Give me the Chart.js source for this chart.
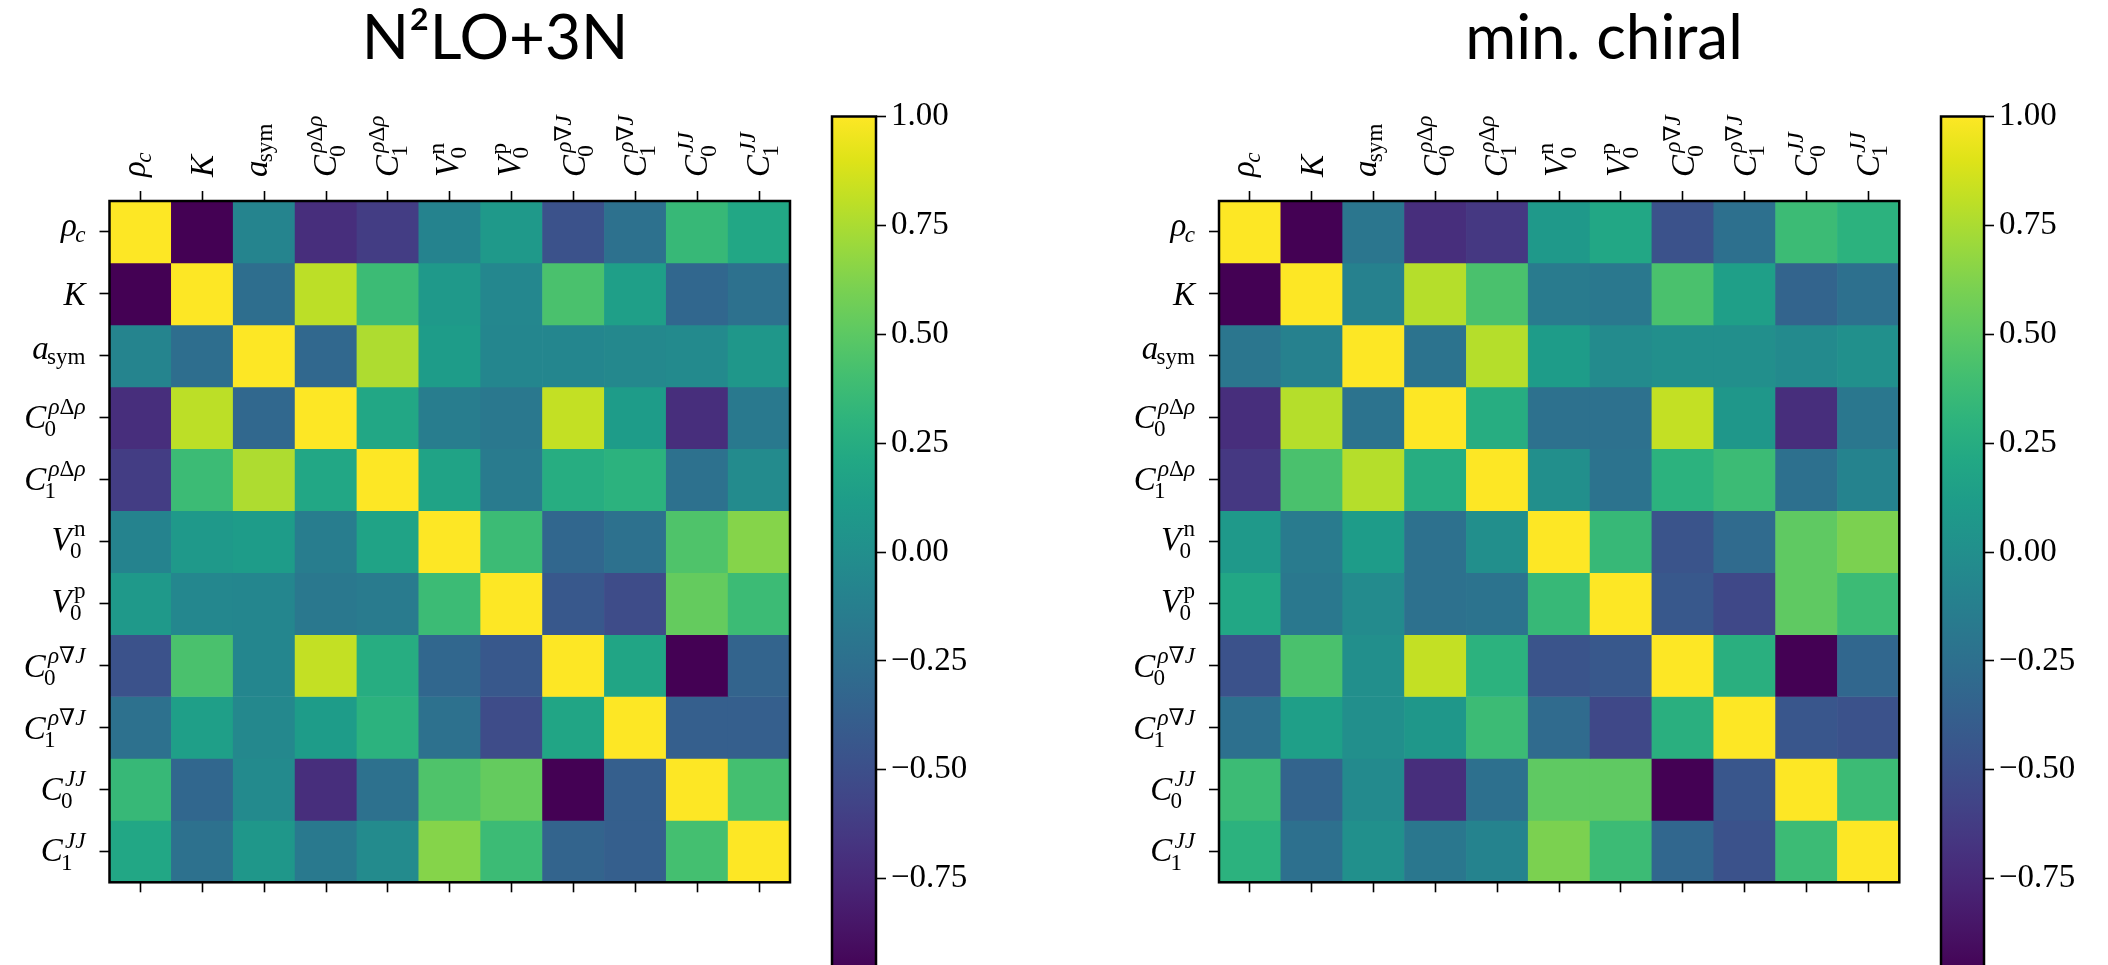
<!DOCTYPE html>
<html>
<head>
<meta charset="utf-8">
<script src="https://cdn.jsdelivr.net/npm/chart.js@4.4.1/dist/chart.umd.min.js"></script>
<style>
  html, body { margin: 0; padding: 0; width: 2108px; height: 965px; overflow: hidden; background: #ffffff; }
  canvas { position: absolute; }
  .title { position: absolute; font-family: Lato, 'Open Sans', sans-serif; font-size: 62px; line-height: 1; white-space: nowrap; transform: translateX(-50%); color: #000; }
</style>
</head>
<body>
<div class="title" id="title1" style="left:495px; top:4px;"></div>
<div class="title" id="title2" style="left:1604px; top:4px;"></div>
<canvas id="heat1" width="830" height="965" style="left:0px; top:0px;"></canvas>
<canvas id="cbar1" width="200" height="1000" style="left:800px; top:0px;"></canvas>
<canvas id="heat2" width="830" height="965" style="left:1100px; top:0px;"></canvas>
<canvas id="cbar2" width="200" height="1000" style="left:1908px; top:0px;"></canvas>
<script>
// ---------------- data ----------------
const parameterLabels = ['ρ_c', 'K', 'a_{sym}', 'C_0^{ρΔρ}', 'C_1^{ρΔρ}', 'V_0^{n}', 'V_0^{p}', 'C_0^{ρ∇J}', 'C_1^{ρ∇J}', 'C_0^{JJ}', 'C_1^{JJ}'];
const uprightGroups = ['sym', 'n', 'p'];
const panelTitles = ['N²LO+3N', 'min. chiral'];
const colorbarTicks = [-0.75, -0.50, -0.25, 0.00, 0.25, 0.50, 0.75, 1.00];

// correlation matrix, N2LO+3N
const n2lo3nCorr = [
  [ 1.00, -0.97, -0.08, -0.71, -0.62, -0.09,  0.09, -0.48, -0.24,  0.35,  0.20],
  [-0.97,  1.00, -0.26,  0.80,  0.37,  0.09, -0.06,  0.43,  0.14, -0.32, -0.24],
  [-0.08, -0.26,  1.00, -0.31,  0.76,  0.11, -0.07, -0.07, -0.05, -0.04,  0.07],
  [-0.71,  0.80, -0.31,  1.00,  0.20, -0.14, -0.18,  0.82,  0.11, -0.71, -0.17],
  [-0.62,  0.37,  0.76,  0.20,  1.00,  0.17, -0.16,  0.25,  0.29, -0.24, -0.03],
  [-0.09,  0.09,  0.11, -0.14,  0.17,  1.00,  0.37, -0.32, -0.24,  0.45,  0.64],
  [ 0.09, -0.06, -0.07, -0.18, -0.16,  0.37,  1.00, -0.43, -0.52,  0.53,  0.37],
  [-0.48,  0.43, -0.07,  0.82,  0.25, -0.32, -0.43,  1.00,  0.19, -0.97, -0.34],
  [-0.24,  0.14, -0.05,  0.11,  0.29, -0.24, -0.52,  0.19,  1.00, -0.38, -0.38],
  [ 0.35, -0.32, -0.04, -0.71, -0.24,  0.45,  0.53, -0.97, -0.38,  1.00,  0.41],
  [ 0.20, -0.24,  0.07, -0.17, -0.03,  0.64,  0.37, -0.34, -0.38,  0.41,  1.00]
];

// correlation matrix, min. chiral
const minChiralCorr = [
  [ 1.00, -0.97, -0.20, -0.71, -0.65,  0.09,  0.20, -0.48, -0.25,  0.37,  0.29],
  [-0.97,  1.00, -0.11,  0.78,  0.43, -0.16, -0.18,  0.43,  0.14, -0.34, -0.25],
  [-0.20, -0.11,  1.00, -0.22,  0.78,  0.11, -0.03,  0.00,  0.00, -0.04,  0.01],
  [-0.71,  0.78, -0.22,  1.00,  0.25, -0.24, -0.24,  0.82,  0.07, -0.71, -0.19],
  [-0.65,  0.43,  0.78,  0.25,  1.00,  0.00, -0.22,  0.29,  0.37, -0.25, -0.09],
  [ 0.09, -0.16,  0.11, -0.24,  0.00,  1.00,  0.35, -0.46, -0.29,  0.51,  0.61],
  [ 0.20, -0.18, -0.03, -0.24, -0.22,  0.35,  1.00, -0.43, -0.55,  0.51,  0.37],
  [-0.48,  0.43,  0.00,  0.82,  0.29, -0.46, -0.43,  1.00,  0.27, -0.97, -0.32],
  [-0.25,  0.14,  0.00,  0.07,  0.37, -0.29, -0.55,  0.27,  1.00, -0.45, -0.48],
  [ 0.37, -0.34, -0.04, -0.71, -0.25,  0.51,  0.51, -0.97, -0.45,  1.00,  0.37],
  [ 0.29, -0.25,  0.01, -0.19, -0.09,  0.61,  0.37, -0.32, -0.48,  0.37,  1.00]
];

// ---------------- colormap (viridis) ----------------
const VIRIDIS = ['#440154','#471365','#482475','#463480','#414487','#3b528b','#355f8d','#2f6c8e','#2a788e','#25848e',
                 '#21918c','#1e9c89','#22a884','#2fb47c','#44bf70','#5ec962','#7ad151','#9bd93c','#bddf26','#dfe318','#fde725'];
function hexRgb(h) { return [parseInt(h.slice(1,3),16), parseInt(h.slice(3,5),16), parseInt(h.slice(5,7),16)]; }
const VIR_RGB = VIRIDIS.map(hexRgb);
function viridis(t) {
  t = Math.max(0, Math.min(1, t));
  const f = t * (VIR_RGB.length - 1);
  const i = Math.min(VIR_RGB.length - 2, Math.floor(f));
  const u = f - i;
  const a = VIR_RGB[i], b = VIR_RGB[i + 1];
  const c = a.map((v, k) => Math.round(v + (b[k] - v) * u));
  return `rgb(${c[0]},${c[1]},${c[2]})`;
}

// ---------------- math-style label rendering ----------------
const SERIF = "'Liberation Serif','DejaVu Serif',serif";
const LABEL_SIZE = 33;
function parseLabel(s) {
  const m = s.match(/^([^_^]+)(?:_(\{[^}]*\}|.))?(?:\^(\{[^}]*\}|.))?$/);
  const strip = g => g ? g.replace(/^\{/, '').replace(/\}$/, '') : '';
  return { base: m[1], sub: strip(m[2]), sup: strip(m[3]) };
}
function pieces(text, size, upright) {
  const out = [];
  for (const ch of text) {
    const it = !upright && /[A-Za-z\u03b1-\u03c9]/.test(ch);
    out.push({ ch, italic: it, font: `${it ? 'italic ' : ''}${size}px ${SERIF}` });
  }
  return out;
}
function measureRun(ctx, run) {
  let w = 0, asc = 0, desc = 0;
  run.forEach(p => {
    ctx.font = p.font;
    const mt = ctx.measureText(p.ch);
    p.w = mt.width;
    asc = Math.max(asc, mt.actualBoundingBoxAscent);
    desc = Math.max(desc, mt.actualBoundingBoxDescent);
    w += p.w;
  });
  return { w, asc, desc };
}
function layoutLabel(ctx, label, S) {
  const { base, sub, sup } = parseLabel(label);
  const s = S * 0.7;
  const items = [];
  const baseRun = pieces(base, S, false);
  const bm = measureRun(ctx, baseRun);
  let x = 0;
  baseRun.forEach(p => { items.push({ ...p, x, dy: 0 }); x += p.w; });
  let width = x, ascent = bm.asc, descent = bm.desc;
  const baseItalic = baseRun[baseRun.length - 1].italic;
  if (sup) {
    const r = pieces(sup, s, uprightGroups.includes(sup));
    const m = measureRun(ctx, r);
    let xs = x + (baseItalic ? 0.07 * S : 0.02 * S);
    const dy = -0.42 * S;
    r.forEach(p => { items.push({ ...p, x: xs, dy }); xs += p.w; });
    width = Math.max(width, xs);
    ascent = Math.max(ascent, -dy + m.asc);
  }
  if (sub) {
    const r = pieces(sub, s, uprightGroups.includes(sub));
    const m = measureRun(ctx, r);
    let xs = x - (baseItalic ? 0.05 * S : 0);
    const dy = sup ? 0.26 * S : 0.17 * S;
    r.forEach(p => { items.push({ ...p, x: xs, dy }); xs += p.w; });
    width = Math.max(width, xs);
    descent = Math.max(descent, dy + m.desc);
  }
  return { items, width, ascent, descent };
}
function drawLabel(ctx, m, x0, y0) {
  ctx.textAlign = 'left';
  ctx.textBaseline = 'alphabetic';
  m.items.forEach(p => { ctx.font = p.font; ctx.fillText(p.ch, x0 + p.x, y0 + p.dy); });
}

const TICK_LEN = 10;
const LABEL_GAP = 14;

const framePlugin = {
  id: 'frame',
  afterDraw(chart) {
    const { ctx, chartArea: a } = chart;
    ctx.save();
    ctx.strokeStyle = '#000';
    ctx.lineWidth = 2.5;
    ctx.strokeRect(a.left, a.top, a.right - a.left, a.bottom - a.top);
    ctx.restore();
  }
};

const mathLabelPlugin = {
  id: 'mathLabels',
  afterDraw(chart) {
    const { ctx, chartArea, scales } = chart;
    ctx.save();
    ctx.fillStyle = '#000';
    parameterLabels.forEach((lab, i) => {
      const m = layoutLabel(ctx, lab, LABEL_SIZE);
      const y = scales.y.getPixelForValue(i);
      drawLabel(ctx, m, chartArea.left - TICK_LEN - LABEL_GAP - m.width, y + (m.ascent - m.descent) / 2);
      const x = scales.x.getPixelForValue(i);
      ctx.save();
      ctx.translate(x, chartArea.top - TICK_LEN - LABEL_GAP);
      ctx.rotate(-Math.PI / 2);
      drawLabel(ctx, m, 0, (m.ascent - m.descent) / 2);
      ctx.restore();
    });
    ctx.restore();
  }
};

function makeHeatmap(id, matrix, frame, pos) {
  const vmin = Math.min(...matrix.flat());
  const n = parameterLabels.length;
  const gridOpts = { display: true, drawOnChartArea: false, drawTicks: true, tickLength: TICK_LEN, tickWidth: 1.6, tickColor: '#000', offset: false };
  const datasets = matrix.map((row, r) => ({
    data: row.map(() => [r - 0.5, r + 0.5]),
    backgroundColor: row.map(v => viridis((v - vmin) / (1 - vmin))),
    borderWidth: 0,
    grouped: false,
    barPercentage: 1,
    categoryPercentage: 1,
    xAxisID: 'x',
    yAxisID: 'y'
  }));
  return new Chart(document.getElementById(id), {
    type: 'bar',
    data: { labels: parameterLabels, datasets },
    options: {
      responsive: false,
      animation: false,
      events: [],
      layout: { padding: {
        left: frame.l - pos.x - TICK_LEN,
        top: frame.t - pos.y - TICK_LEN,
        right: pos.w - (frame.r - pos.x),
        bottom: pos.h - (frame.b - pos.y) - TICK_LEN
      } },
      plugins: { legend: { display: false }, tooltip: { enabled: false } },
      scales: {
        x: { type: 'category', labels: parameterLabels, position: 'top', offset: true, grid: gridOpts,
             border: { display: false }, ticks: { display: false }, afterFit: s => { s.height = TICK_LEN; } },
        x2: { type: 'category', labels: parameterLabels, position: 'bottom', offset: true, grid: gridOpts,
              border: { display: false }, ticks: { display: false }, afterFit: s => { s.height = TICK_LEN; } },
        y: { type: 'linear', position: 'left', reverse: true, min: -0.5, max: n - 0.5, grid: gridOpts,
             border: { display: false }, ticks: { display: false },
             afterBuildTicks: s => { s.ticks = parameterLabels.map((_, i) => ({ value: i })); },
             afterFit: s => { s.width = TICK_LEN; } }
      }
    },
    plugins: [framePlugin, mathLabelPlugin]
  });
}

function makeColorbar(id, matrix, frame, pos) {
  const vmin = Math.min(...matrix.flat());
  const PX_PER_UNIT = 435.5;
  const bottom = frame.t + (1 - vmin) * PX_PER_UNIT;
  const axisW = pos.w - (frame.r - pos.x);
  return new Chart(document.getElementById(id), {
    type: 'bar',
    data: { labels: [''], datasets: [{
      data: [[vmin, 1]],
      backgroundColor: (c) => {
        const chart = c.chart;
        const { ctx, chartArea, scales } = chart;
        if (!chartArea) return VIRIDIS[0];
        const g = ctx.createLinearGradient(0, scales.y.getPixelForValue(vmin), 0, scales.y.getPixelForValue(1));
        VIRIDIS.forEach((col, i) => g.addColorStop(i / (VIRIDIS.length - 1), col));
        return g;
      },
      borderWidth: 0, barPercentage: 1, categoryPercentage: 1
    }] },
    options: {
      responsive: false,
      animation: false,
      events: [],
      layout: { padding: { left: frame.l - pos.x, top: frame.t - pos.y, right: 0, bottom: pos.h - (bottom - pos.y) } },
      plugins: { legend: { display: false }, tooltip: { enabled: false } },
      scales: {
        x: { type: 'category', display: false, offset: true },
        y: { type: 'linear', position: 'right', min: vmin, max: 1,
             afterBuildTicks: s => { s.ticks = colorbarTicks.map(v => ({ value: v })); },
             ticks: { callback: v => (v < 0 ? '\u2212' : '') + Math.abs(v).toFixed(2),
                      font: { family: SERIF, size: 33 }, color: '#000', padding: 5 },
             grid: { display: true, drawOnChartArea: false, drawTicks: true, tickLength: TICK_LEN, tickWidth: 1.6, tickColor: '#000' },
             border: { display: false },
             afterFit: s => { s.width = axisW; } }
      }
    },
    plugins: [framePlugin]
  });
}

document.getElementById('title1').textContent = panelTitles[0];
document.getElementById('title2').textContent = panelTitles[1];

makeHeatmap('heat1', n2lo3nCorr, { l: 109.5, t: 201, r: 790, b: 882.3 }, { x: 0, y: 0, w: 830, h: 965 });
makeColorbar('cbar1', n2lo3nCorr, { l: 832, t: 116.5, r: 876 }, { x: 800, y: 0, w: 200, h: 1000 });
makeHeatmap('heat2', minChiralCorr, { l: 1219, t: 201, r: 1899.3, b: 882.3 }, { x: 1100, y: 0, w: 830, h: 965 });
makeColorbar('cbar2', minChiralCorr, { l: 1941, t: 116.5, r: 1984 }, { x: 1908, y: 0, w: 200, h: 1000 });
</script>
</body>
</html>
